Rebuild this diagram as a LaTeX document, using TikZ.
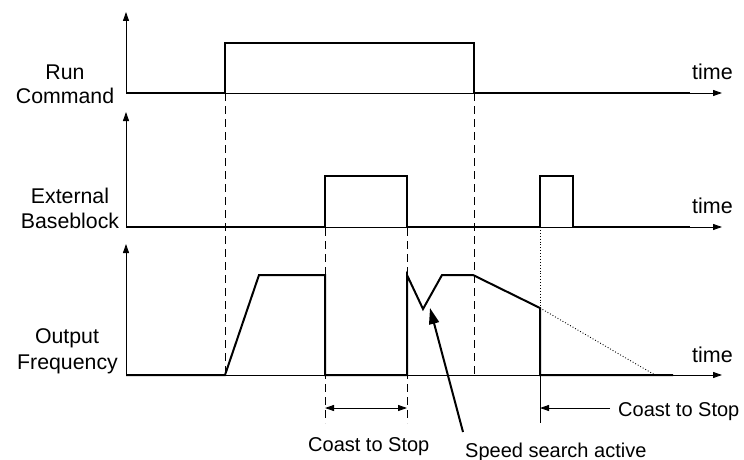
\documentclass[tikz,border=0pt]{standalone}
\usepackage{fontspec}
\setmainfont{Liberation Sans}
\usetikzlibrary{arrows.meta}
\begin{document}
\begin{tikzpicture}[x=1pt,y=-1pt,
  axis/.style={line width=0.9pt,-{Triangle[length=9pt,width=6pt]}},
  sig/.style={line width=2pt,line join=miter},
  guide/.style={line width=1pt,dash pattern=on 8pt off 5pt},
  dotguide/.style={line width=0.9pt,dotted},
  lbl/.style={font=\fontsize{21.3}{24}\selectfont,inner sep=0pt,anchor=base},
  txt/.style={font=\fontsize{20}{24}\selectfont,inner sep=0pt,anchor=base west},
  tlbl/.style={font=\fontsize{21.5}{24}\selectfont,inner sep=0pt,anchor=base west},
  dim/.style={line width=0.9pt,{Triangle[length=9pt,width=6pt]}-{Triangle[length=9pt,width=6pt]}},
  dimone/.style={line width=0.9pt,-{Triangle[length=9pt,width=6pt]}}]
\useasboundingbox (0,0) rectangle (744,460);
% axes
\coordinate (o1) at (126,93);
\coordinate (o2) at (126,227);
\coordinate (o3) at (126,375);
\coordinate (t1) at (126,12);
\coordinate (t2) at (126,112);
\coordinate (t3) at (126,244);
\coordinate (e1) at (722,93);
\coordinate (e2) at (722,227);
\coordinate (e3) at (722,375);
\draw[axis] (o1) -- (t1);
\draw[axis] (o2) -- (t2);
\draw[axis] (o3) -- (t3);
\draw[axis] (o1) -- (e1);
\draw[axis] (o2) -- (e2);
\draw[axis] (o3) -- (e3);
% labels
\node[lbl] (l1a) at (65,80) {Run};
\node[lbl] (l1b) at (65,103) {Command};
\node[lbl] (l2a) at (70,203) {External};
\node[lbl] (l2b) at (70,228) {Baseblock};
\node[lbl] (l3a) at (67,343) {Output};
\node[lbl] (l3b) at (67.5,369) {Frequency};
\node[tlbl] (tm1) at (692,80) {time};
\node[tlbl] (tm2) at (692,213) {time};
\node[tlbl] (tm3) at (692,362) {time};
% guides
\draw[guide] (225,93) -- (225,375);
\draw[guide] (474,93) -- (474,375);
\draw[guide] (325,176) -- (325,423);
\draw[guide] (407,176) -- (407,423);
\draw[dotguide] (540,227) -- (540,308);
% run command
\draw[sig] (o1) -- (225,93) -- (225,43) -- (474,43) -- (474,93) -- (690,93);
% baseblock
\draw[sig] (o2) -- (325,227) -- (325,176) -- (407,176) -- (407,227) -- (540,227) -- (540,176) -- (573,176) -- (573,227) -- (690,227);
% output frequency
\draw[sig] (o3) -- (225,375) -- (259,275) -- (325,275) -- (325,375) -- (407,375) -- (407,275) -- (423,309) -- (442,275) -- (473,275) -- (540,308) -- (540,375) -- (673,375);
\draw[dotguide] (540,308) -- (655,375);
\draw[line width=0.9pt] (540,375) -- (540,423);
% coast to stop 1
\coordinate (c1a) at (325,408);
\coordinate (c1b) at (407,408);
\draw[dim] (c1a) -- (c1b);
\node[txt] (ct1) at (308,451) {Coast to Stop};
% coast to stop 2
\coordinate (c2a) at (610,408);
\coordinate (c2b) at (540,408);
\draw[dimone] (c2a) -- (c2b);
\node[txt] (ct2) at (618,416) {Coast to Stop};
% speed search
\node[txt] (ss) at (465,457) {Speed search active};
\coordinate (sa) at (463,432);
\coordinate (sb) at (430,308);
\draw[line width=2pt,-{Triangle[length=16pt,width=10pt]}] (sa) -- (sb);
\end{tikzpicture}
\end{document}
